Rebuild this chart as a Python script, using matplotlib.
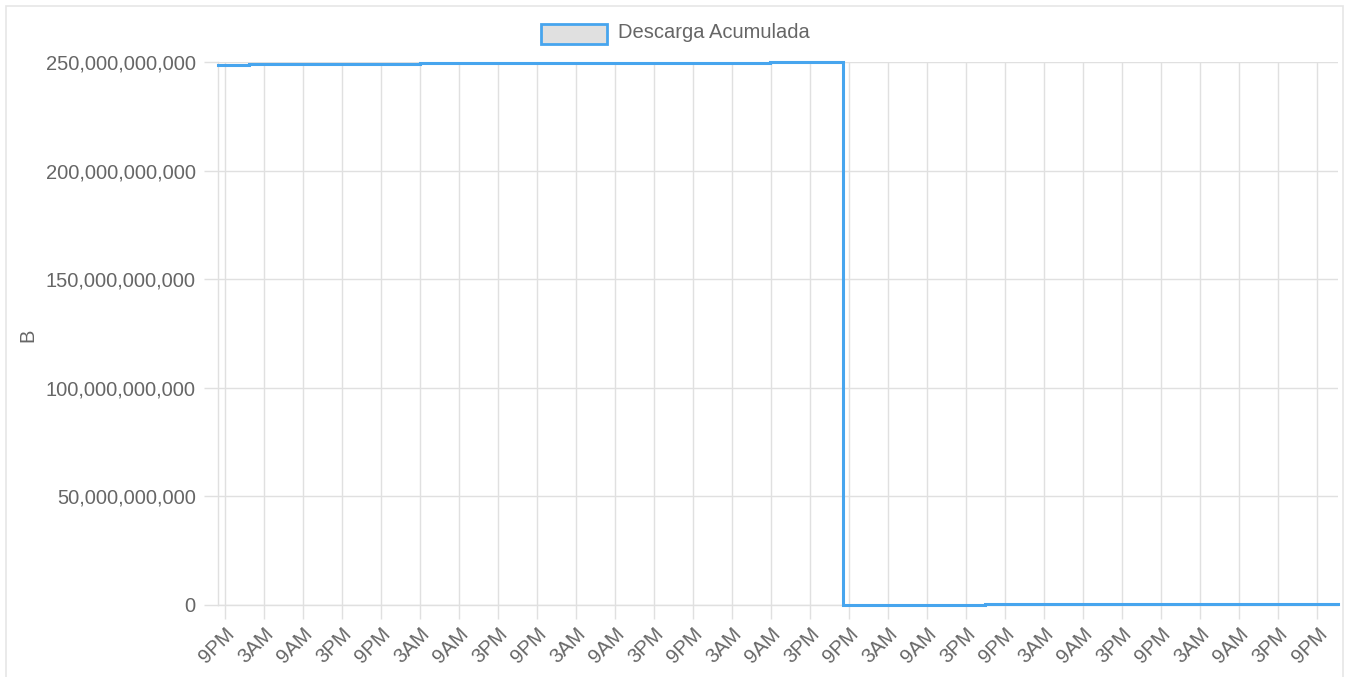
import matplotlib
matplotlib.use("Agg")
import matplotlib.pyplot as plt
import matplotlib.dates as mdates
from matplotlib.patches import Rectangle
from matplotlib.ticker import FuncFormatter, MultipleLocator
import pandas as pd

plt.rcParams['font.family'] = ['Liberation Sans', 'DejaVu Sans']

# ---- data ----
base = pd.Timestamp("2023-03-01 21:00")
hours = [-1.0, 3.8, 30.0, 57.4, 83.8, 95.1, 117.0, 144.6, 171.2]
values_gb = [248.8, 249.3, 249.5, 249.7, 250.0, 0.05, 0.3, 0.6, 0.6]
series_label = "Descarga Acumulada"
y_label = "B"

times = [base + pd.Timedelta(hours=h) for h in hours]
values = [v * 1e9 for v in values_gb]

W, H = 1348, 677
fig = plt.figure(figsize=(W / 100, H / 100), dpi=100)
fig.patch.set_facecolor("white")

# outer border
fig.add_artist(Rectangle((6 / W, -0.01), (1343 - 6) / W, 1 - 6 / H + 0.01,
                         transform=fig.transFigure, fill=False,
                         edgecolor="#e6e6e6", linewidth=1.2))

ax = fig.add_axes([218 / W, 1 - 605 / H, (1338 - 218) / W, (605 - 62) / H])

line_color = "#47a5ee"
grid_color = "#e0e0e0"
text_color = "#666666"

ax.plot(times, values, drawstyle="steps-post", color=line_color, linewidth=2.2,
        solid_joinstyle="miter", zorder=3, clip_on=False)

ax.set_xlim(times[0], times[-1])
ax.set_ylim(0, 250e9)

ax.yaxis.set_major_locator(MultipleLocator(50e9))
ax.yaxis.set_major_formatter(FuncFormatter(lambda v, p: f"{int(round(v)):,}"))

ax.xaxis.set_major_locator(mdates.HourLocator(byhour=[3, 9, 15, 21]))

def fmt_time(x, pos):
    d = mdates.num2date(x)
    h = d.hour % 12
    if h == 0:
        h = 12
    return f"{h}{'AM' if d.hour < 12 else 'PM'}"

ax.xaxis.set_major_formatter(FuncFormatter(fmt_time))

ax.grid(True, color=grid_color, linewidth=1)
ax.set_axisbelow(True)
for s in ["top", "right"]:
    ax.spines[s].set_visible(False)
for s in ["left", "bottom"]:
    ax.spines[s].set_color(grid_color)
    ax.spines[s].set_linewidth(1)

ax.tick_params(axis="both", color=grid_color, length=10, width=1,
               labelcolor=text_color, labelsize=14.5)
ax.tick_params(axis="y", pad=6)
ax.tick_params(axis="x", pad=4)
for lbl in ax.get_xticklabels():
    lbl.set_rotation(45)
    lbl.set_ha("right")
    lbl.set_rotation_mode("anchor")

fig.text(28 / W, 1 - 335 / H, y_label, rotation=90, ha="center", va="center",
         color=text_color, fontsize=14.5)

# legend
fig.add_artist(Rectangle((541 / W, 1 - 44 / H), 66 / W, 20 / H,
                         transform=fig.transFigure, facecolor="#e0e0e0",
                         edgecolor=line_color, linewidth=2))
fig.text(618 / W, 1 - 33 / H, series_label, ha="left", va="center",
         color=text_color, fontsize=14.5)

fig.savefig("out.png", dpi=100, facecolor="white")
